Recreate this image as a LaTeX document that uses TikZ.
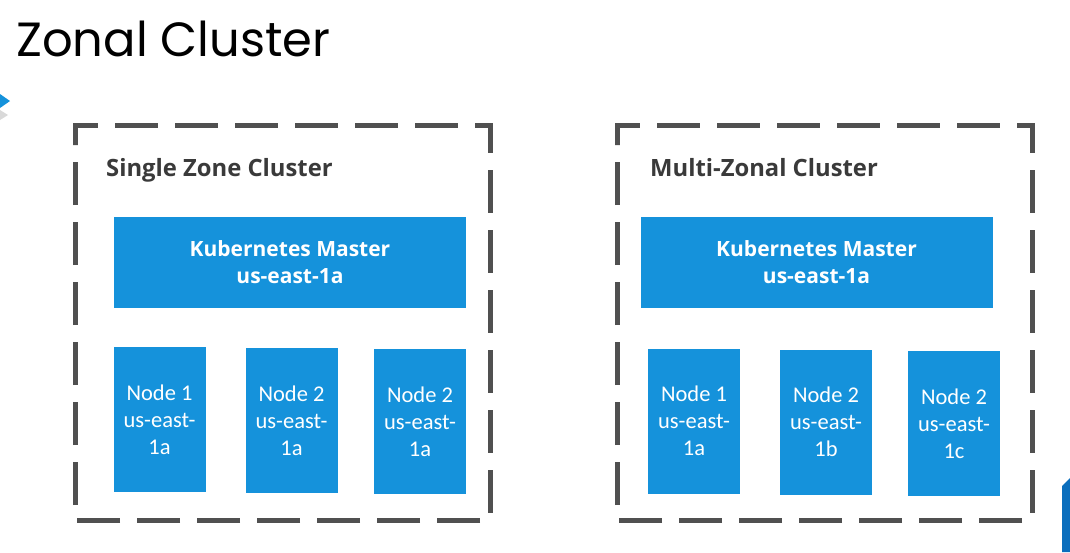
\documentclass[tikz,border=0pt]{standalone}
\usepackage{fontspec}
\setmainfont{Carlito}
\newfontfamily\titlefont{Poppins}
\newfontfamily\labfont{Open Sans}
\definecolor{kblue}{RGB}{21,146,219}
\definecolor{dgrey}{RGB}{80,80,80}
\definecolor{lgrey}{RGB}{58,58,58}
\definecolor{barblue}{RGB}{10,110,189}
\begin{document}
\begin{tikzpicture}[x=1pt,y=-1pt,
  outer/.style={draw=dgrey,line width=5pt,dash pattern=on 43pt off 17pt,line cap=butt},
  master/.style={fill=kblue,draw=none,minimum width=352pt,minimum height=91pt,inner sep=0pt,
     text=white,align=center,font=\labfont\bfseries\fontsize{21}{27}\selectfont},
  wnode/.style={fill=kblue,draw=none,minimum width=92pt,minimum height=145pt,inner sep=0pt,
     text=white,align=center,font=\fontsize{22.5}{27}\selectfont},
  clabel/.style={anchor=base west,text=lgrey,inner sep=0pt,font=\labfont\bfseries\fontsize{23.8}{27}\selectfont},
  ttl/.style={anchor=base west,inner sep=0pt,font=\titlefont\fontsize{48}{56}\selectfont}]
\useasboundingbox (0,0) rectangle (1070,552);
\fill[white] (0,0) rectangle (1070,552);
% slide artefacts
\fill[kblue] (0,94) -- (10,101) -- (0,108) -- cycle;
\fill[black!15] (0,110) -- (8,115) -- (0,120) -- cycle;
\fill[barblue] (1062,486) -- (1070,478) -- (1070,552) -- (1062,552) -- cycle;
% title
\node[ttl] (title) at (16,56) {Zonal Cluster};
% left cluster
\draw[outer] (75,145) -- (75,125) -- (490,125) -- (490,520) -- (75,520) -- cycle;
\node[clabel] (lab1) at (106,176) {Single Zone Cluster};
\node[master] (m1) at (290,262.5) {Kubernetes Master\\us-east-1a};
\node[wnode] (a1) at (159.5,419.5) {Node 1\\us-east-\\1a};
\node[wnode] (a2) at (291.5,420.5) {Node 2\\us-east-\\1a};
\node[wnode] (a3) at (420,421.5) {Node 2\\us-east-\\1a};
% right cluster
\draw[outer] (617,145) -- (617,125) -- (1032,125) -- (1032,520) -- (617,520) -- cycle;
\node[clabel] (lab2) at (650,176) {Multi-Zonal Cluster};
\node[master] (m2) at (816.5,262.5) {Kubernetes Master\\us-east-1a};
\node[wnode] (b1) at (694,421) {Node 1\\us-east-\\1a};
\node[wnode] (b2) at (826,422) {Node 2\\us-east-\\1b};
\node[wnode] (b3) at (954,423.5) {Node 2\\us-east-\\1c};
\end{tikzpicture}
\end{document}
